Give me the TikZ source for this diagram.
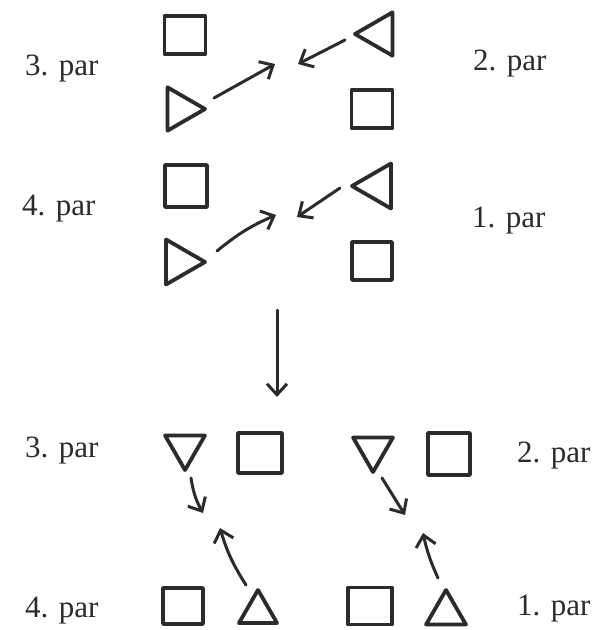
\documentclass[tikz,border=0pt]{standalone}
\usepackage{fontspec}
\setmainfont{Liberation Serif}
\usetikzlibrary{shapes.geometric,arrows.meta}
\definecolor{ink}{HTML}{2B2B2B}
\tikzset{
  box/.style={draw=ink,line width=3.8pt,line join=round,rectangle,inner sep=0pt},
  tri/.style={draw=ink,line width=3.8pt,line join=round,regular polygon,regular polygon sides=3,inner sep=0pt,minimum size=#1},
  lbl/.style={font=\fontsize{31}{36}\selectfont,text=ink,anchor=base west,inner sep=0pt},
  arr/.style={draw=ink,line width=3pt,line cap=round,-{Straight Barb[length=11pt,width=20pt,line width=3pt]}}
}
\begin{document}
\begin{tikzpicture}[x=1pt,y=-1pt]
\useasboundingbox (0,0) rectangle (596,630);
% ---- top group
\node[box,minimum width=41pt,minimum height=38pt] (sqA) at (185,35) {};
\node[tri=50pt,regular polygon rotate=-90] (triA) at (180,109) {};
\node[tri=50pt,regular polygon rotate=90] (triB) at (380,34) {};
\node[box,minimum width=41pt,minimum height=38pt] (sqB) at (372,109) {};
\coordinate (a1s) at (214,98); \coordinate (a1e) at (275,64);
\coordinate (a2s) at (345,40); \coordinate (a2e) at (298,64);
\draw[arr] (a1s) -- (a1e);
\draw[arr] (a2s) -- (a2e);
% ---- second group
\node[box,minimum width=42pt,minimum height=42pt] (sqC) at (186,186) {};
\node[tri=52pt,regular polygon rotate=-90] (triC) at (179,262) {};
\node[tri=52pt,regular polygon rotate=90] (triD) at (378,186) {};
\node[box,minimum width=40pt,minimum height=38pt] (sqD) at (372,261) {};
\coordinate (b1s) at (217,251); \coordinate (b1e) at (276,215);
\coordinate (b2s) at (340,188); \coordinate (b2e) at (297,217);
\draw[arr] (b1s) to[bend left=8] (b1e);
\draw[arr] (b2s) -- (b2e);
% ---- labels top
\node[lbl] (l3) at (25,75) {3. par};
\node[lbl] (l2) at (473,70) {2. par};
\node[lbl] (l4) at (22,215) {4. par};
\node[lbl] (l1) at (472,227) {1. par};
% ---- big down arrow
\coordinate (ds) at (277,310); \coordinate (de) at (277,397);
\draw[arr] (ds) -- (de);
% ---- bottom group
\node[tri=46pt,regular polygon rotate=180] (triE) at (185,447) {};
\node[box,minimum width=44pt,minimum height=40pt] (sqE) at (260,453) {};
\node[tri=46pt,regular polygon rotate=180] (triF) at (373,449) {};
\node[box,minimum width=42pt,minimum height=42pt] (sqF) at (449,454) {};
\node[box,minimum width=40pt,minimum height=36pt] (sqG) at (183,606) {};
\node[tri=44pt] (triG) at (258,612) {};
\node[box,minimum width=44pt,minimum height=37pt] (sqH) at (370,606) {};
\node[tri=46pt] (triH) at (446,613) {};
\coordinate (c1s) at (191,478); \coordinate (c1e) at (203,513);
\coordinate (c2s) at (246,585); \coordinate (c2e) at (220,528);
\coordinate (c3s) at (382,478); \coordinate (c3e) at (405,515);
\coordinate (c4s) at (438,578); \coordinate (c4e) at (423,533);
\draw[arr] (c1s) to[bend right=10] (c1e);
\draw[arr] (c2s) to[bend left=8] (c2e);
\draw[arr] (c3s) -- (c3e);
\draw[arr] (c4s) to[bend left=6] (c4e);
% ---- labels bottom
\node[lbl] (m3) at (25,457) {3. par};
\node[lbl] (m2) at (517,462) {2. par};
\node[lbl] (m4) at (25,617) {4. par};
\node[lbl] (m1) at (517,615) {1. par};
\end{tikzpicture}
\end{document}
